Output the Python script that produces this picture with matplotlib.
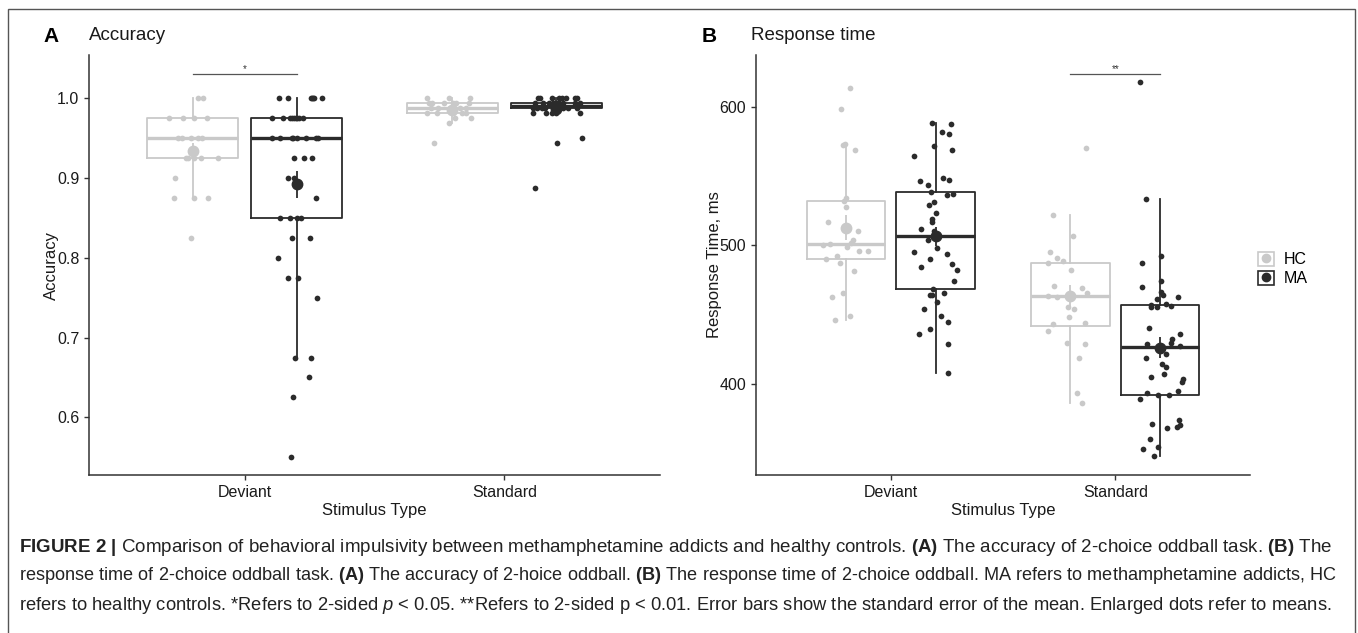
import numpy as np
import matplotlib
matplotlib.use("Agg")
import matplotlib.pyplot as plt
from matplotlib.patches import Rectangle, Patch
from matplotlib.lines import Line2D

plt.rcParams['font.family'] = ['Liberation Sans', 'DejaVu Sans']
plt.rcParams['mathtext.fontset'] = 'custom'
plt.rcParams['mathtext.rm'] = 'Liberation Sans'
plt.rcParams['mathtext.it'] = 'Liberation Sans:italic'
plt.rcParams['mathtext.bf'] = 'Liberation Sans:bold'

# ------------------ DATA ------------------
stimulus = ['Deviant', 'Standard']
groups = ['HC', 'MA']

# accuracy, Deviant
acc_dev_hc = [1.0, 1.0, 0.975, 0.975, 0.975, 0.975, 0.95, 0.95, 0.95, 0.95, 0.95,
              0.925, 0.925, 0.925, 0.925, 0.925, 0.9, 0.875, 0.875, 0.875, 0.825]
acc_dev_hc_jit = [0.019, 0.038, -0.090, -0.039, 0.003, 0.053, -0.059, -0.043, -0.008, 0.019, 0.034,
                  -0.028, -0.020, 0.003, 0.030, 0.096, -0.070, -0.074, 0.003, 0.057, -0.008]
acc_dev_ma = [1.0, 1.0, 1.0, 1.0, 1.0, 1.0, 1.0,
              0.975, 0.975, 0.975, 0.975, 0.975, 0.975, 0.975, 0.975, 0.975,
              0.95, 0.95, 0.95, 0.95, 0.95, 0.95, 0.95, 0.95,
              0.925, 0.925, 0.925, 0.9, 0.9, 0.875, 0.85, 0.85, 0.85, 0.85,
              0.825, 0.825, 0.8, 0.775, 0.775, 0.75, 0.675, 0.675, 0.65, 0.625, 0.55]
acc_dev_ma_jit = [-0.069, -0.034, 0.055, 0.059, 0.066, 0.097, 0.062,
                  -0.096, -0.053, -0.026, -0.019, -0.011, -0.003, 0.008, 0.024, 0.0,
                  -0.096, -0.065, -0.019, -0.015, 0.001, 0.036, 0.074, 0.082,
                  -0.011, 0.028, 0.059, -0.034, -0.011, 0.074, -0.065, -0.026, 0.001, 0.016,
                  -0.019, 0.051, -0.073, -0.034, 0.005, 0.078, -0.007, 0.055, 0.047, -0.015, -0.022]

# accuracy, Standard
acc_std_hc = [1.0, 1.0, 1.0, 0.99375, 0.99375, 0.99375, 0.99375, 0.99375, 0.99375,
              0.9875, 0.9875, 0.9875, 0.9875, 0.9875, 0.9875, 0.9875,
              0.98125, 0.98125, 0.98125, 0.98125, 0.98125, 0.975, 0.975, 0.96875, 0.94375]
acc_std_hc_jit = [-0.097, -0.012, 0.069, -0.090, -0.078, -0.032, 0.003, 0.015, 0.065,
                  -0.082, -0.055, -0.008, -0.001, 0.007, 0.030, 0.053,
                  -0.097, -0.059, 0.003, 0.038, 0.053, 0.011, 0.073, -0.012, -0.070]
acc_std_ma = [1.0, 1.0, 1.0, 1.0, 1.0, 1.0, 1.0, 1.0,
              0.99375, 0.99375, 0.99375, 0.99375, 0.99375, 0.99375, 0.99375, 0.99375, 0.99375, 0.99375,
              0.9875, 0.9875, 0.9875, 0.9875, 0.9875, 0.9875, 0.9875, 0.9875, 0.9875, 0.9875,
              0.98125, 0.98125, 0.98125, 0.98125, 0.98125, 0.95, 0.94375, 0.8875]
acc_std_ma_jit = [-0.069, -0.061, -0.015, 0.012, 0.024, 0.036, 0.074, 0.082,
                  -0.080, -0.049, -0.026, -0.011, 0.001, 0.012, 0.028, 0.074, 0.093, 0.005,
                  -0.088, -0.073, -0.053, -0.042, -0.011, 0.001, 0.008, 0.028, 0.047, 0.082,
                  -0.088, -0.038, -0.015, 0.001, 0.093, 0.101, 0.005, -0.080]

# response time (ms), Deviant
rt_dev_hc = [613.5, 598.6, 573.3, 572.6, 569.2, 534.5, 532.4, 527.8, 510.2, 503.8, 502.1, 498.7,
             496.0, 496.0, 487.6, 481.6, 465.8, 448.9, 501.0, 500.6, 490.5, 492.5, 463.0, 446.0, 517.0]
rt_dev_hc_jit = [0.020, -0.023, -0.004, -0.014, 0.039, 0.002, -0.008, 0.002, 0.054, 0.032, 0.023, 0.005,
                 0.057, 0.097, -0.025, 0.035, -0.011, 0.018, -0.070, -0.100, -0.090, -0.040, -0.060, -0.050, -0.080]
rt_dev_ma = [588.2, 587.7, 581.7, 580.5, 571.8, 568.7, 564.8, 546.8, 543.5, 548.5, 547.1, 538.6,
             536.7, 537.4, 529.2, 531.4, 523.2, 519.1, 517.2, 511.7, 510.7, 508.8, 506.9, 506.4,
             504.0, 498.0, 495.3, 493.6, 490.3, 486.4, 484.7, 482.6, 474.2, 468.9, 465.8, 464.1,
             464.1, 459.2, 454.4, 448.9, 444.5, 440.0, 435.9, 428.7, 407.8]
rt_dev_ma_jit = [-0.014, 0.067, 0.028, 0.059, -0.008, 0.072, -0.096, -0.069, -0.035, 0.035, 0.058, -0.021,
                 0.049, 0.077, -0.029, -0.008, 0.001, -0.016, -0.017, -0.065, -0.007, -0.002, 0.004, -0.013,
                 -0.035, 0.005, -0.096, 0.050, -0.025, 0.075, -0.066, 0.096, 0.084, -0.011, 0.038, -0.025,
                 -0.017, 0.004, -0.051, 0.026, 0.056, -0.027, -0.072, 0.054, 0.056]

# response time (ms), Standard
rt_std_hc = [570.2, 522.0, 506.9, 495.1, 491.3, 489.0, 487.0, 482.3, 470.8, 469.3, 466.0, 463.8,
             463.1, 455.4, 454.2, 448.7, 444.3, 443.2, 438.3, 429.8, 428.9, 418.8, 393.8, 386.1]
rt_std_hc_jit = [0.069, -0.077, 0.013, -0.090, -0.058, -0.031, -0.100, 0.002, -0.071, 0.054, 0.072, -0.098,
                 -0.058, -0.011, 0.016, -0.005, 0.067, -0.077, -0.098, -0.013, 0.063, 0.038, 0.029, 0.054]
rt_std_ma = [618.1, 533.6, 492.4, 487.1, 474.4, 470.3, 466.7, 464.3, 463.1, 461.1, 458.0, 457.0,
             456.3, 455.6, 455.6, 440.7, 435.9, 432.3, 429.8, 428.7, 427.4, 427.0, 427.0, 421.4,
             419.0, 414.7, 412.5, 407.2, 405.3, 403.6, 401.4, 395.2, 393.5, 392.3, 392.3, 389.2,
             374.0, 371.1, 370.2, 369.2, 368.0, 360.0, 354.8, 353.1, 348.0]
rt_std_ma_jit = [-0.088, -0.065, 0.002, -0.079, 0.002, -0.083, 0.002, 0.011, 0.081, -0.016, 0.026, -0.039,
                 0.050, -0.039, -0.014, -0.050, 0.090, 0.053, 0.047, -0.058, 0.090, 0.0, 0.005, 0.028,
                 -0.065, 0.008, 0.025, 0.019, -0.041, 0.102, 0.099, 0.078, -0.060, -0.011, 0.038, -0.088,
                 0.083, -0.038, 0.090, 0.075, 0.029, -0.044, -0.011, -0.076, -0.026]

# ------------------ STYLE ------------------
W, H = 1358, 633
colors = {'HC': '#c9c9c9', 'MA': '#2b2b2b'}
dodge = {'HC': -0.2, 'MA': 0.2}
axis_col = '#333333'


def px_axes(left, top, right, bottom):
    return fig.add_axes([left / W, 1 - bottom / H, (right - left) / W, (bottom - top) / H])


def draw_panel(ax, data):
    # data: {(stimulus_idx, group): (values, jitter)}
    for (si, g), (vals, jit) in data.items():
        c = colors[g]
        pos = si + 1 + dodge[g]
        vals = np.array(vals)
        ax.boxplot([vals], positions=[pos], widths=0.35, showfliers=False, showcaps=False,
                   whis=1.5, manage_ticks=False,
                   boxprops=dict(color=c, linewidth=1.3),
                   whiskerprops=dict(color=c, linewidth=1.3),
                   medianprops=dict(color=c, linewidth=2.4), zorder=1)
        ax.scatter(pos + np.array(jit), vals, s=17, color=c, linewidths=0, zorder=3)
        mean = vals.mean()
        se = vals.std(ddof=1) / np.sqrt(len(vals))
        ax.errorbar([pos], [mean], yerr=[se], fmt='o', ms=7.5, color=c, elinewidth=1.3,
                    capsize=0, zorder=4)
    ax.set_xlim(0.4, 2.6)
    ax.set_xticks([1, 2])
    ax.set_xticklabels(stimulus)
    for s in ['top', 'right']:
        ax.spines[s].set_visible(False)
    for s in ['left', 'bottom']:
        ax.spines[s].set_color(axis_col)
        ax.spines[s].set_linewidth(1.1)
    ax.tick_params(colors=axis_col, labelcolor='#1a1a1a', labelsize=11.5, length=3.5, width=1.0)
    ax.set_xlabel('Stimulus Type', fontsize=12, color='#1a1a1a', labelpad=2)


def bracket(ax, x0, x1, y, label):
    ax.plot([x0, x1], [y, y], color='#555555', linewidth=0.9, clip_on=False)
    ax.text((x0 + x1) / 2, y, label, ha='center', va='bottom', fontsize=7, color='#333333')


fig = plt.figure(figsize=(W / 100, H / 100), dpi=100)

# ------------------ PANEL A ------------------
axA = px_axes(89, 55, 660, 475)
draw_panel(axA, {(0, 'HC'): (acc_dev_hc, acc_dev_hc_jit), (0, 'MA'): (acc_dev_ma, acc_dev_ma_jit),
                 (1, 'HC'): (acc_std_hc, acc_std_hc_jit), (1, 'MA'): (acc_std_ma, acc_std_ma_jit)})
axA.set_ylim(0.5277, 1.0543)
axA.set_yticks([0.6, 0.7, 0.8, 0.9, 1.0])
axA.set_yticklabels(['0.6', '0.7', '0.8', '0.9', '1.0'])
axA.set_ylabel('Accuracy', fontsize=12, color='#1a1a1a', labelpad=-1.8)
bracket(axA, 0.8, 1.2, 1.0305, '*')

# ------------------ PANEL B ------------------
axB = px_axes(756, 55, 1250, 475)
draw_panel(axB, {(0, 'HC'): (rt_dev_hc, rt_dev_hc_jit), (0, 'MA'): (rt_dev_ma, rt_dev_ma_jit),
                 (1, 'HC'): (rt_std_hc, rt_std_hc_jit), (1, 'MA'): (rt_std_ma, rt_std_ma_jit)})
axB.set_ylim(334.3, 637.5)
axB.set_yticks([400, 500, 600])
axB.set_ylabel('Response Time, ms', fontsize=12, color='#1a1a1a', labelpad=-1.8)
bracket(axB, 1.8, 2.2, 623.6, '**')

# panel labels and titles
fig.text(43 / W, 1 - 37 / H, 'A', fontsize=15, fontweight='bold', va='center', ha='left')
fig.text(89 / W, 1 - 35 / H, 'Accuracy', fontsize=13.5, va='center', ha='left', color='#1a1a1a')
fig.text(702 / W, 1 - 37 / H, 'B', fontsize=15, fontweight='bold', va='center', ha='left')
fig.text(751 / W, 1 - 35 / H, 'Response time', fontsize=13.5, va='center', ha='left', color='#1a1a1a')

# legend
handles = [(Patch(facecolor='white', edgecolor=colors[g], linewidth=1.2),
            Line2D([], [], color=colors[g], marker='o', ms=6, linestyle='')) for g in groups]
fig.legend(handles, groups, loc='center left', bbox_to_anchor=(1244 / W, 1 - 269 / H),
           frameon=False, fontsize=11.5, handlelength=1.0, handleheight=1.0,
           handletextpad=0.6, labelspacing=0.2)

# caption: each line shrunk until it ends where the original line ends
cap = [
    r"$\mathbf{FIGURE\ 2\ |}$ Comparison of behavioral impulsivity between methamphetamine addicts and healthy controls. "
    r"$\mathbf{(A)}$ The accuracy of 2-choice oddball task. $\mathbf{(B)}$ The",
    r"response time of 2-choice oddball task. $\mathbf{(A)}$ The accuracy of 2-hoice oddball. "
    r"$\mathbf{(B)}$ The response time of 2-choice oddball. MA refers to methamphetamine addicts, HC",
    r"refers to healthy controls. *Refers to 2-sided $p$ < 0.05. **Refers to 2-sided p < 0.01. "
    r"Error bars show the standard error of the mean. Enlarged dots refer to means.",
]
renderer = fig.canvas.get_renderer()
for i, line in enumerate(cap):
    t = fig.text(19 / W, 1 - (547 + 29 * i) / H, line, fontsize=13.8, va='center', ha='left',
                 color='#222222')
    size = 13.8
    while t.get_window_extent(renderer).x1 > 1338 and size > 11:
        size -= 0.05
        t.set_fontsize(size)

# outer frame
fig.patches.append(Rectangle((8 / W, -0.05), (1355 - 8) / W, 1 - 9 / H + 0.05,
                             transform=fig.transFigure, fill=False, edgecolor='#555555',
                             linewidth=1.0))

fig.savefig('out.png', dpi=100)
